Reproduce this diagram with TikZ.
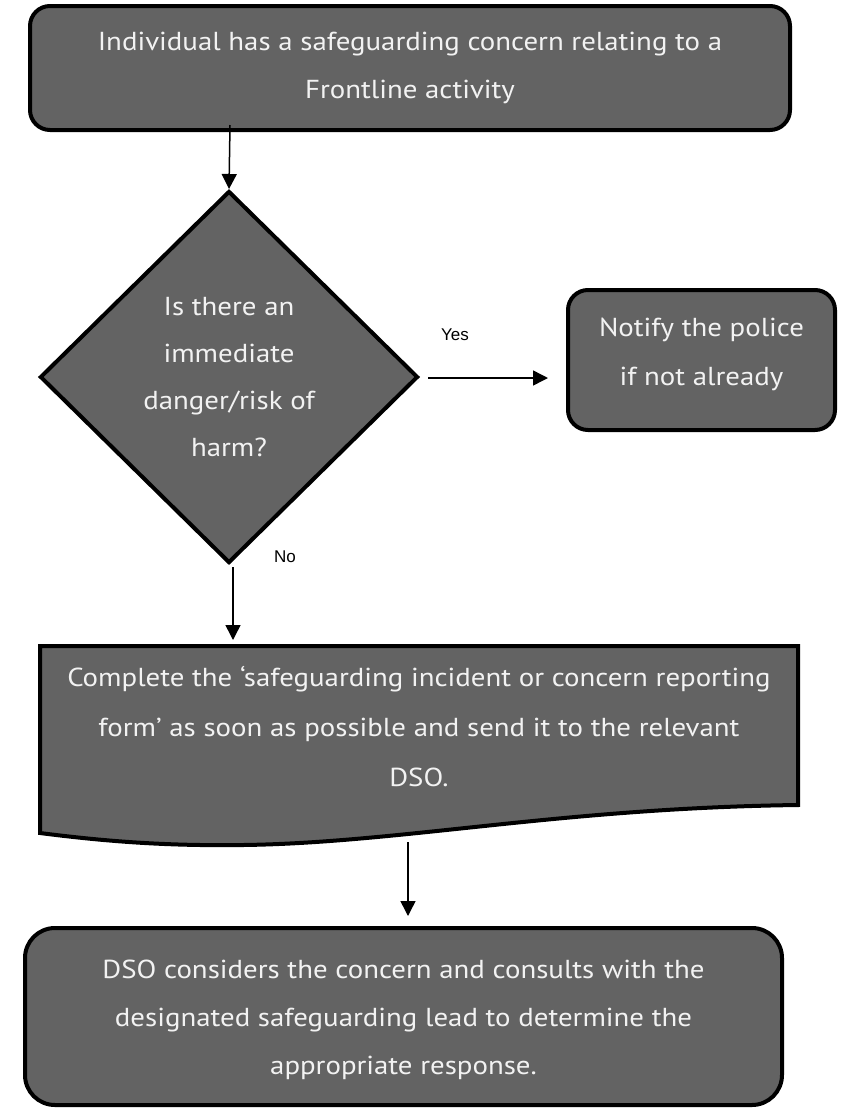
\documentclass[tikz,border=0pt]{standalone}
\usepackage{fontspec}
\setmainfont[FakeStretch=1.11]{PT Sans}
\newfontfamily\labelfont{Liberation Sans}
\usetikzlibrary{shapes.geometric,arrows.meta}
\definecolor{boxgray}{HTML}{636363}
\definecolor{boxtext}{HTML}{F2F2F2}
\tikzset{
  flowbox/.style={draw=black, line width=4pt, fill=boxgray, rounded corners=20pt,
    text=boxtext, align=center, inner sep=0pt,
    font=\fontsize{26}{48}\selectfont},
  decision/.style={diamond, draw=black, line width=4pt, fill=boxgray, inner sep=0pt,
    text=boxtext, align=center, font=\fontsize{26}{47}\selectfont},
  boxtxt/.style={text=boxtext, align=center, inner sep=0pt, font=\fontsize{26}{50}\selectfont},
  conn/.style={line width=1.5pt, -{Triangle[width=15pt,length=15pt]}},
  lbl/.style={font=\labelfont\fontsize{17}{19}\selectfont, inner sep=0pt}
}
\begin{document}
\begin{tikzpicture}[x=1pt,y=-1pt]
\useasboundingbox (0,0) rectangle (843,1112);
% top box
\node[flowbox, minimum width=760pt, minimum height=124pt] (start) at (410,68)
  {Individual has a safeguarding concern relating to a\\Frontline activity};
% decision
\node[decision, minimum width=378pt, minimum height=372pt] (dec) at (229,377)
  {Is there an\\immediate\\danger/risk of\\harm?};
% notify
\node[flowbox, minimum width=267pt, minimum height=140pt] (police) at (701.5,360)
  {};
\node[boxtxt, font=\fontsize{26}{49}\selectfont] (policetxt) at (701.5,354)
  {Notify the police\\if not already};
% document shape
\draw[line width=4pt, fill=boxgray, line join=miter]
  (40,646) -- (798,646) -- (798,805)
  .. controls (560,808) and (400,843) .. (243,845)
  .. controls (170,846) and (110,842) .. (40,833) -- cycle;
\node[boxtxt] (form) at (419,727)
  {Complete the `safeguarding incident or concern reporting\\form' as soon as possible and send it to the relevant\\DSO.};
\coordinate (formtop) at (233,640);
\coordinate (formbot) at (408,842);
% bottom box
\node[flowbox, rounded corners=30pt, minimum width=757pt, minimum height=177pt] (dso) at (403.5,1016.5)
  {};
\node[boxtxt, font=\fontsize{26}{48}\selectfont] (dsotxt) at (403.5,1020)
  {DSO considers the concern and consults with the\\designated safeguarding lead to determine the\\appropriate response.};
\coordinate (dsotop) at (408,916);
% connectors
\coordinate (startbot) at (230,125);
\draw[conn] (startbot) -- (dec.north);
\coordinate (yesstart) at (428,378);
\coordinate (yesend) at (548,378);
\draw[conn] (yesstart) -- (yesend);
\node[lbl] (yes) at (455,335) {Yes};
\coordinate (decbot) at (233,567);
\draw[conn] (decbot) -- (formtop);
\node[lbl] (no) at (285,557) {No};
\draw[conn] (formbot) -- (dsotop);
\end{tikzpicture}
\end{document}
